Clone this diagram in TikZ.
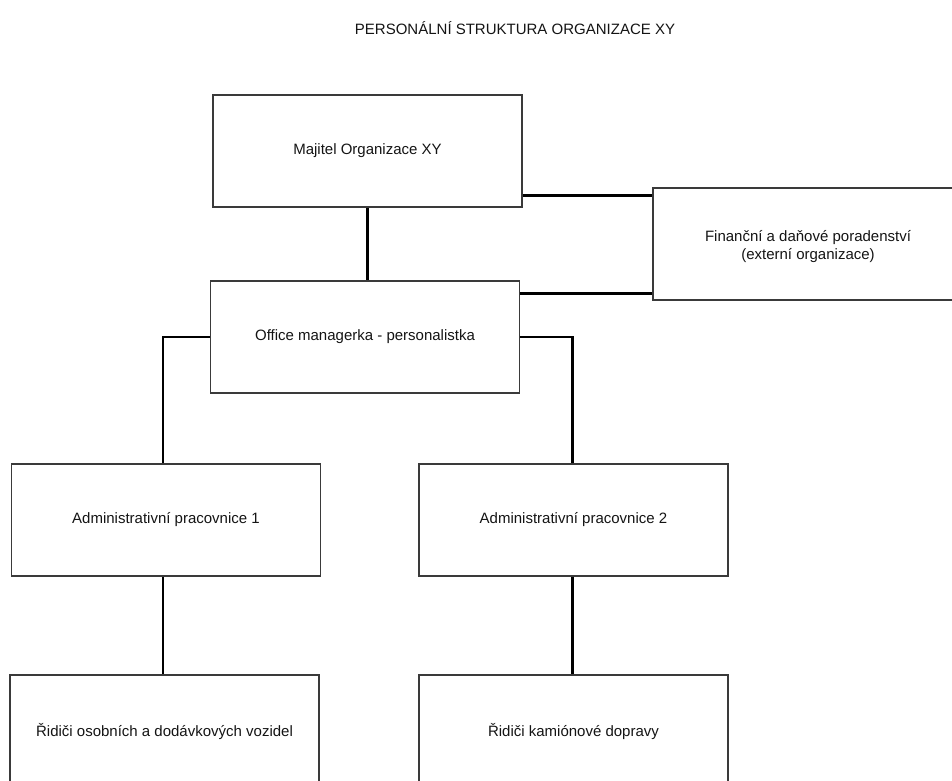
\documentclass[tikz,border=0pt]{standalone}
\usepackage{fontspec}
\setmainfont{Liberation Sans}
\usetikzlibrary{calc}
\definecolor{txt}{HTML}{141414}
\definecolor{bord}{HTML}{3A3A3A}
\begin{document}
\begin{tikzpicture}[x=1pt,y=-1pt,
  box/.style={draw=bord,line width=1.6pt,rectangle,minimum width=309pt,minimum height=112pt,
    inner sep=0pt,align=center,text=txt,font=\fontsize{15}{18}\selectfont},
  lowtext/.style={text depth=8pt,text height=14pt},
  link/.style={draw=black,line width=2.8pt}]
\useasboundingbox (0,0) rectangle (952,780);
\clip (0,0) rectangle (952,780);
\node[text=txt,font=\fontsize{15}{18}\selectfont] (title) at (515,28) {PERSONÁLNÍ STRUKTURA ORGANIZACE XY};
\node[box,lowtext] (maj) at (367.5,151) {Majitel Organizace XY};
\node[box,minimum width=310pt] (fin) at (808,244) {\rule{0pt}{17pt}Finanční a daňové poradenství\\(externí organizace)};
\node[box,lowtext] (off) at (365,337) {Office managerka - personalistka};
\node[box,lowtext] (a1) at (166,520) {Administrativní pracovnice 1};
\node[box,lowtext] (a2) at (573.5,520) {Administrativní pracovnice 2};
\node[box] (r1) at (164.5,731) {Řidiči osobních a dodávkových vozidel};
\node[box] (r2) at (573.5,731) {Řidiči kamiónové dopravy};
\coordinate (mf) at ([yshift=12pt]maj.south east);
\coordinate (of) at ([yshift=-13pt]off.north east);
\draw[link] (maj.south) -- (maj.south |- off.north);
\draw[link] (mf) -- (mf -| fin.west);
\draw[link] (of) -- (of -| fin.west);
\draw[link] (off.west) -| ([xshift=-3pt]a1.north);
\draw[link] (off.east) -| ([xshift=-1pt]a2.north);
\draw[link] ([xshift=-3pt]a1.south) -- ([xshift=-3pt]a1.south |- r1.north);
\draw[link] ([xshift=-1pt]a2.south) -- ([xshift=-1pt]a2.south |- r2.north);
\end{tikzpicture}
\end{document}
